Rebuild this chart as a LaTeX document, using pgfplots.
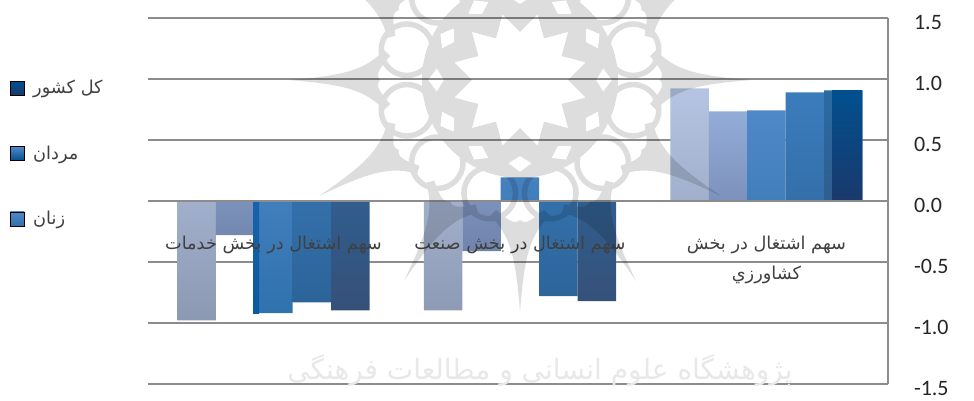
\documentclass[border=0pt]{standalone}
\usepackage{fontspec}
\usepackage{pgfplots}
\pgfplotsset{compat=1.18}
\TeXXeTstate=1
\setmainfont{Carlito}
\newfontfamily\arabicfont[Script=Arabic]{DejaVu Sans}
\definecolor{rule}{HTML}{8C8C8C}
\definecolor{labeltext}{HTML}{404040}
\definecolor{sA}{HTML}{B4C4E2}\definecolor{sAb}{HTML}{8C99B3}
\definecolor{sB}{HTML}{93ACD8}\definecolor{sBb}{HTML}{6F83AB}
\definecolor{sC}{HTML}{5088C8}\definecolor{sCb}{HTML}{2F72AD}
\definecolor{sD}{HTML}{3B7CBC}\definecolor{sDb}{HTML}{2C6499}
\definecolor{sE}{HTML}{2A6BA3}\definecolor{sEb}{HTML}{365078}
\definecolor{sF}{HTML}{01508F}\definecolor{sFb}{HTML}{19396C}
\definecolor{sG}{HTML}{1763AB}\definecolor{sGb}{HTML}{0A5A9E}
\pgfplotsset{
  barstyle/.style n args={4}{ybar, bar width=#1, bar shift=#2, draw=none,
    top color=#3, bottom color=#4, forget plot},
  swatch/.style n args={2}{legend image code/.code={
    \shade[top color=#1, bottom color=#2] (0pt,-5.25pt) rectangle (10.5pt,5.25pt);}},
}
\tikzset{sector/.style={anchor=base, inner sep=0pt, font=\arabicfont\fontsize{13.3}{16}\selectfont, text=labeltext}}
\begin{document}
\begin{tikzpicture}[x=1pt,y=1pt]
\path[use as bounding box] (-111pt,-12pt) rectangle (619.5pt,288pt);
\begin{axis}[
  at={(0pt,0pt)}, anchor=south west,
  scale only axis, width=555pt, height=274.5pt,
  xmin=-0.509, xmax=2.493, ymin=-1.5, ymax=1.5,
  axis x line=middle, axis y line=right,
  axis line style={-, draw=rule, line width=1.1pt},
  hide obscured x ticks=false, hide obscured y ticks=false,
  ymajorgrids, grid style={draw=rule, line width=1.1pt},
  major tick length=0pt,
  ytick={-1.5,-1,-0.5,0,0.5,1,1.5},
  xtick=\empty,
  /pgf/number format/assume math mode=true,
  /pgf/number format/fixed, /pgf/number format/fixed zerofill,
  /pgf/number format/precision=1,
  yticklabel style={anchor=west, xshift=16pt, yshift=-3.6pt, font=\fontsize{16.5}{18}\selectfont, text=black!85},
  legend style={at={(-0.1865,0.8365)}, anchor=north west, draw=none, fill=none,
    inner sep=0pt, outer sep=0pt, row sep=33.4pt, column sep=4.5pt,
    font=\fontsize{13.3}{16}\selectfont, text=labeltext},
  legend cell align=left,
]
% women, lightest tone first, one bar per sector
\addplot[barstyle={28.9pt}{-57.6pt}{sA}{sAb}] coordinates {(0,-0.978) (1,-0.896) (2,0.924)};
\addplot[barstyle={28.9pt}{-28.8pt}{sB}{sBb}] coordinates {(0,-0.28) (1,-0.41) (2,0.735)};
\addplot[barstyle={28.9pt}{0pt}{sC}{sCb}] coordinates {(0,-0.92) (1,0.194) (2,0.743)};
\addplot[barstyle={28.9pt}{28.8pt}{sD}{sDb}] coordinates {(0,-0.83) (1,-0.78) (2,0.891)};
\addplot[barstyle={28.9pt}{57.6pt}{sE}{sEb}] coordinates {(0,-0.896) (1,-0.82) (2,0.907)};
% darker overlapping parts of two bars
\addplot[barstyle={22.5pt}{60.4pt}{sF}{sFb}] coordinates {(2,0.907)};
\addplot[barstyle={4.5pt}{-13.1pt}{sG}{sGb}] coordinates {(0,-0.92)};
\addlegendimage{swatch={sF}{sFb}}\addlegendentry{\arabicfont\beginR كل كشور\endR}
\addlegendimage{swatch={sC}{sF}}\addlegendentry{\arabicfont\beginR مردان\endR}
\addlegendimage{swatch={sC}{sCb}}\addlegendentry{\arabicfont\beginR زنان\endR}
% sector names sit over the bars
\node[sector] at (axis cs:0,-0.395) {\beginR سهم اشتغال در بخش خدمات\endR};
\node[sector] at (axis cs:1,-0.395) {\beginR سهم اشتغال در بخش صنعت\endR};
\node[sector] at (axis cs:2,-0.395) {\beginR سهم اشتغال در بخش\endR};
\node[sector] at (axis cs:2,-0.64) {\beginR كشاورزي\endR};
\end{axis}
% zero line lies above the bars
\draw[rule, line width=1.1pt] (0pt,137.25pt) -- (555pt,137.25pt);
% institute emblem, faint and above the chart; units are pixels from the top left
\begin{scope}[x=0.75pt, y=-0.75pt, shift={(-148,-384)}]
  \clip (0,0) rectangle (974,400);
  \begin{scope}[shift={(520,80)}, y=0.75pt, transparency group, opacity=0.135]
    % ring round the central star, with its small windows
    \fill[even odd rule, black]
      (0,0) circle (98)
      (0:48) -- (15:68) -- (30:48) -- (45:68) -- (60:48) -- (75:68) -- (90:48) -- (105:68)
      -- (120:48) -- (135:68) -- (150:48) -- (165:68) -- (180:48) -- (195:68) -- (210:48)
      -- (225:68) -- (240:48) -- (255:68) -- (270:48) -- (285:68) -- (300:48) -- (315:68)
      -- (330:48) -- (345:68) -- cycle
      (0:76) -- (8:84) -- (0:92) -- (-8:84) -- cycle
      (30:76) -- (38:84) -- (30:92) -- (22:84) -- cycle
      (60:76) -- (68:84) -- (60:92) -- (52:84) -- cycle
      (90:76) -- (98:84) -- (90:92) -- (82:84) -- cycle
      (120:76) -- (128:84) -- (120:92) -- (112:84) -- cycle
      (150:76) -- (158:84) -- (150:92) -- (142:84) -- cycle
      (180:76) -- (188:84) -- (180:92) -- (172:84) -- cycle
      (210:76) -- (218:84) -- (210:92) -- (202:84) -- cycle
      (240:76) -- (248:84) -- (240:92) -- (232:84) -- cycle
      (270:76) -- (278:84) -- (270:92) -- (262:84) -- cycle
      (300:76) -- (308:84) -- (300:92) -- (292:84) -- cycle
      (330:76) -- (338:84) -- (330:92) -- (322:84) -- cycle;
    % rings and spikes
    \foreach \a in {15,45,...,345} {
      \fill[even odd rule, black] (\a:117) circle (28.5) (\a:117) circle (23);
    }
    \foreach \a in {0,30,...,330} {
      \fill[black, rotate=\a] (232,0) .. controls (180,4) and (155,9) .. (136,30)
         -- (130,24) .. controls (140,12) and (145,6) .. (140,0)
         .. controls (145,-6) and (140,-12) .. (130,-24) -- (136,-30)
         .. controls (155,-9) and (180,-4) .. (232,0) -- cycle;
    }
  \end{scope}
  % institute name in calligraphy
  \node[text=black!9, font=\arabicfont\fontsize{21}{26}\selectfont] at (540,370)
    {\beginR پژوهشگاه علوم انسانی و مطالعات فرهنگی\endR};
\end{scope}
\end{tikzpicture}
\end{document}
